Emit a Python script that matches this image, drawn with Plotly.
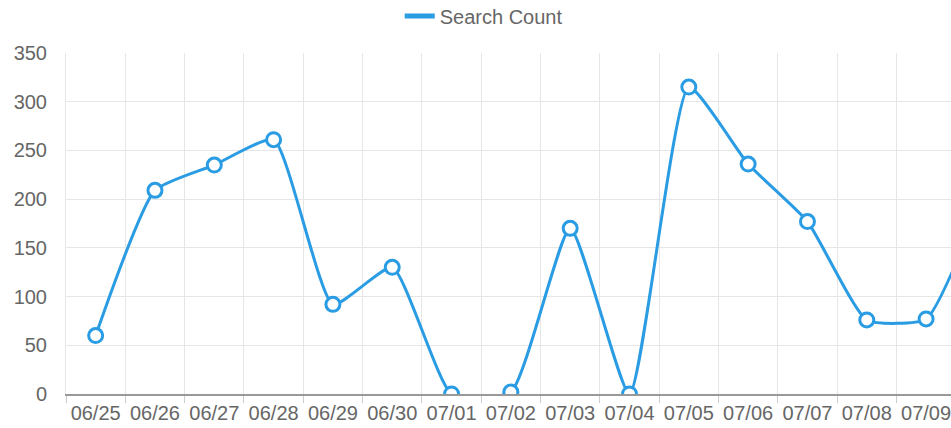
import plotly.graph_objects as go

dates = ["06/25", "06/26", "06/27", "06/28", "06/29", "06/30", "07/01", "07/02",
         "07/03", "07/04", "07/05", "07/06", "07/07", "07/08", "07/09", "07/10"]
search_count = [60, 209, 235, 261, 92, 130, 0, 2, 170, 0, 315, 236, 177, 76, 77, 210]
y_ticks = [0, 50, 100, 150, 200, 250, 300, 350]

BLUE = "#2a9ce3"
TXT = "#666666"
FONT = "Liberation Sans, Arial, sans-serif"

fig = go.Figure()
fig.add_trace(go.Scatter(
    x=dates, y=search_count, name="Search Count",
    mode="lines+markers",
    line=dict(color=BLUE, width=3, shape="spline", smoothing=0.5),
    marker=dict(size=14, color="white", line=dict(color=BLUE, width=3)),
    hoverinfo="skip", showlegend=False,
))
# legend-only entry (line symbol, as in the reference)
fig.add_trace(go.Scatter(
    x=[None], y=[None], name="Search Count", mode="lines",
    line=dict(color=BLUE, width=5), hoverinfo="skip", showlegend=True,
))

fig.update_layout(
    width=951, height=428,
    margin=dict(l=66, r=0, t=53, b=34, autoexpand=False),
    paper_bgcolor="white", plot_bgcolor="white",
    font=dict(family=FONT, size=20, color=TXT),
    showlegend=True,
    legend=dict(orientation="h", x=0.472, xanchor="center", y=1.1085, yanchor="middle",
                font=dict(family=FONT, size=20, color=TXT), itemwidth=30),
    xaxis=dict(
        type="category", range=[-0.5, 14.42], automargin=False, tickangle=0,
        tickson="boundaries", ticks="outside", ticklen=7, tickcolor="#cccccc",
        showgrid=True, gridcolor="#e6e6e6", gridwidth=1,
        showline=True, linecolor="#999999", linewidth=1.5,
        tickfont=dict(family=FONT, size=20, color=TXT),
        fixedrange=True,
    ),
    yaxis=dict(
        range=[0, 350], tickvals=y_ticks, ticktext=[str(v) for v in y_ticks],
        automargin=False,
        showgrid=True, gridcolor="#e6e6e6", gridwidth=1,
        showline=True, linecolor="#e6e6e6", linewidth=1,
        zeroline=False, ticks="", ticklabelstandoff=14,
        tickfont=dict(family=FONT, size=20, color=TXT),
        fixedrange=True,
    ),
)

fig.write_html(
    "out.html",
    config={"displayModeBar": False},
    post_script="document.body.style.margin='0';document.body.style.overflow='hidden';",
)
